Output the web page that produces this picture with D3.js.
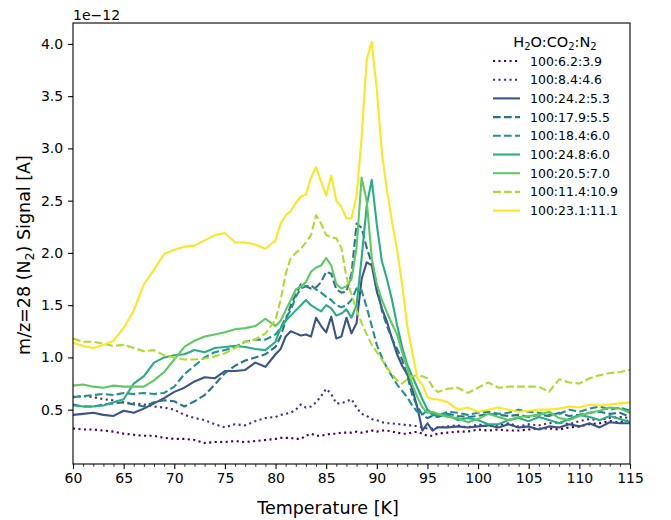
<!DOCTYPE html>
<meta charset="utf-8">
<script src="https://d3js.org/d3.v7.min.js"></script>
<style>
body { margin: 0; background: #fff; }
text { font-family: "DejaVu Sans", sans-serif; fill: #000; }
.axisText { font-size: 14px; }
.axisTitle { font-size: 17.5px; }
.legendText { font-size: 12.5px; }
.legendTitle { font-size: 14.5px; }
</style>
<div id="my_dataviz"></div>
<script>

// temperatures [K] (finer steps around the desorption peak)
const temps = [60,61,62,63,64,65,66,67,68,69,70,71,72,73,74,75,76,77,78,79,80,
  80.5,81,81.5,82,82.5,83,83.5,84,84.5,85,85.5,86,86.5,87,87.5,88,88.5,89,89.5,90,90.5,91,91.5,92,92.5,93,93.5,94,94.5,95,95.5,96,
  97,98,99,100,101,102,103,104,105,106,107,108,109,110,111,112,113,114,115];

// signals in units of 1e-12 A
const r6_2_3_9 = [0.32,0.31,0.31,0.30,0.29,0.27,0.26,0.25,0.25,0.23,0.22,0.22,0.21,0.18,0.19,0.19,0.20,0.19,0.20,0.21,0.22,
  0.23,0.23,0.23,0.22,0.22,0.25,0.27,0.25,0.25,0.26,0.27,0.27,0.28,0.28,0.28,0.29,0.28,0.29,0.30,0.29,0.30,0.30,0.29,0.28,0.27,0.27,0.28,0.29,0.27,0.25,0.25,0.27,
  0.28,0.29,0.29,0.31,0.30,0.31,0.30,0.30,0.31,0.32,0.32,0.31,0.33,0.34,0.36,0.37,0.39,0.38,0.40];
const r8_4_4_6 = [0.62,0.63,0.62,0.60,0.59,0.57,0.56,0.55,0.53,0.52,0.50,0.45,0.42,0.40,0.36,0.33,0.36,0.35,0.39,0.42,0.43,
  0.45,0.46,0.47,0.50,0.55,0.52,0.53,0.57,0.63,0.70,0.65,0.56,0.56,0.58,0.60,0.52,0.46,0.44,0.41,0.40,0.38,0.37,0.37,0.36,0.36,0.35,0.35,0.34,0.33,0.32,0.32,0.33,
  0.34,0.35,0.33,0.36,0.34,0.35,0.37,0.34,0.36,0.35,0.37,0.38,0.36,0.39,0.41,0.40,0.42,0.43,0.42];
const r24_2_5_3 = [0.45,0.46,0.47,0.45,0.44,0.49,0.47,0.51,0.56,0.61,0.67,0.71,0.77,0.81,0.80,0.87,0.87,0.88,0.95,0.91,1.03,
  1.08,1.20,1.25,1.23,1.21,1.22,1.20,1.38,1.30,1.24,1.39,1.18,1.20,1.38,1.23,1.33,1.75,1.91,1.88,1.63,1.47,1.34,1.18,1.03,0.92,0.84,0.70,0.52,0.30,0.37,0.30,0.33,
  0.33,0.34,0.33,0.34,0.35,0.33,0.36,0.33,0.34,0.31,0.34,0.33,0.36,0.34,0.37,0.33,0.38,0.37,0.37];
const r17_9_5_5 = [0.55,0.53,0.53,0.55,0.56,0.57,0.55,0.53,0.57,0.59,0.58,0.53,0.58,0.64,0.74,0.85,0.92,0.97,1.00,1.03,1.10,
  1.20,1.35,1.50,1.60,1.70,1.68,1.66,1.67,1.72,1.82,1.80,1.65,1.62,1.63,1.80,2.28,2.24,2.05,1.90,1.70,1.45,1.30,1.18,1.08,0.98,0.83,0.64,0.53,0.45,0.42,0.44,0.43,
  0.46,0.44,0.43,0.44,0.46,0.45,0.44,0.45,0.43,0.45,0.44,0.47,0.44,0.45,0.47,0.48,0.46,0.47,0.43];
const r18_4_6_0 = [0.62,0.63,0.64,0.65,0.64,0.66,0.65,0.66,0.65,0.66,0.72,0.84,0.92,1.00,1.05,1.07,1.10,1.15,1.17,1.17,1.22,
  1.28,1.38,1.45,1.58,1.66,1.68,1.69,1.65,1.62,1.58,1.55,1.50,1.48,1.50,1.55,1.66,1.64,1.48,1.30,1.12,1.00,0.90,0.82,0.74,0.68,0.62,0.54,0.48,0.45,0.50,0.45,0.44,
  0.48,0.47,0.45,0.47,0.48,0.46,0.47,0.50,0.48,0.47,0.45,0.46,0.50,0.48,0.51,0.53,0.50,0.52,0.49];
const r24_8_6_0 = [0.54,0.53,0.53,0.54,0.57,0.60,0.75,0.82,0.95,1.00,1.02,1.03,1.07,1.05,1.09,1.10,1.11,1.10,1.08,1.07,1.15,
  1.28,1.35,1.40,1.45,1.50,1.55,1.50,1.47,1.44,1.50,1.47,1.40,1.42,1.46,1.38,1.50,1.95,2.45,2.70,2.27,1.92,1.75,1.55,1.31,1.10,0.93,0.82,0.71,0.60,0.50,0.46,0.45,
  0.45,0.40,0.42,0.40,0.36,0.36,0.40,0.42,0.39,0.43,0.40,0.37,0.41,0.45,0.43,0.40,0.44,0.41,0.38];
const r20_5_7_0 = [0.73,0.74,0.72,0.71,0.73,0.72,0.72,0.72,0.78,0.86,0.98,1.10,1.16,1.20,1.22,1.24,1.27,1.28,1.30,1.37,1.30,
  1.35,1.45,1.55,1.65,1.68,1.72,1.82,1.86,1.88,1.95,1.88,1.70,1.66,1.68,1.75,2.05,2.72,2.50,1.95,1.70,1.55,1.43,1.32,1.22,1.05,0.90,0.74,0.62,0.52,0.47,0.48,0.46,
  0.43,0.42,0.38,0.41,0.46,0.43,0.40,0.43,0.44,0.45,0.48,0.42,0.40,0.44,0.47,0.49,0.52,0.51,0.47];
const r11_4_10_9 = [1.18,1.15,1.15,1.13,1.11,1.12,1.09,1.06,1.07,1.02,1.00,0.98,0.98,0.99,1.01,1.04,1.09,1.15,1.17,1.23,1.36,
  1.55,1.80,1.95,2.00,2.04,2.10,2.17,2.36,2.28,2.17,2.15,2.14,2.05,1.77,1.60,1.45,1.33,1.22,1.12,1.05,0.98,0.90,0.84,0.78,0.75,0.79,0.82,0.83,0.82,0.80,0.72,0.67,
  0.70,0.71,0.66,0.71,0.76,0.71,0.72,0.72,0.72,0.72,0.67,0.79,0.76,0.75,0.80,0.83,0.85,0.86,0.88];
const r23_1_11_1 = [1.14,1.11,1.09,1.12,1.16,1.28,1.45,1.70,1.84,1.99,2.03,2.06,2.07,2.12,2.17,2.19,2.10,2.10,2.08,2.04,2.12,
  2.28,2.36,2.40,2.48,2.54,2.56,2.72,2.82,2.68,2.55,2.74,2.50,2.44,2.33,2.33,2.55,3.10,3.85,4.02,3.56,2.96,2.60,2.30,2.03,1.70,1.30,1.05,0.80,0.74,0.62,0.60,0.60,
  0.57,0.50,0.52,0.48,0.50,0.52,0.50,0.48,0.49,0.50,0.50,0.51,0.53,0.52,0.55,0.54,0.55,0.56,0.57];

const labels = ["100:6.2:3.9","100:8.4:4.6","100:24.2:5.3","100:17.9:5.5","100:18.4:6.0",
  "100:24.8:6.0","100:20.5:7.0","100:11.4:10.9","100:23.1:11.1"];
const styles = ["dot","dot","solid","dash","dash","solid","solid","dash","solid"];
const xTicks = [60,65,70,75,80,85,90,95,100,105,110,115];
const yTicks = [0.5,1.0,1.5,2.0,2.5,3.0,3.5,4.0];

const allSeries = [r6_2_3_9, r8_4_4_6, r24_2_5_3, r17_9_5_5, r18_4_6_0, r24_8_6_0, r20_5_7_0, r11_4_10_9, r23_1_11_1];
const dashes = {dot: "2.1,3.4", dash: "7.7,3.3", solid: null};

// set the dimensions and margins of the graph
const margin = {top: 23, right: 41, bottom: 56, left: 73},
    width = 671 - margin.left - margin.right,
    height = 520 - margin.top - margin.bottom;

const root = d3.select("#my_dataviz")
  .append("svg")
    .attr("width", 671)
    .attr("height", 520);

const svg = root.append("g")
    .attr("transform", `translate(${margin.left}, ${margin.top})`);

const x = d3.scaleLinear().domain([60, 115]).range([0, width]);
const y = d3.scaleLinear().domain([-0.02, 4.2]).range([height, 0]);

svg.append("clipPath").attr("id", "clip")
  .append("rect").attr("width", width).attr("height", height);

// lines
const line = d3.line()
  .x((d, i) => x(temps[i]))
  .y(d => y(d));

allSeries.forEach((vals, i) => {
  svg.append("path")
    .datum(vals)
    .attr("clip-path", "url(#clip)")
    .attr("fill", "none")
    .attr("stroke", d3.interpolateViridis(i / 8))
    .attr("stroke-width", 2.1)
    .attr("stroke-dasharray", dashes[styles[i]])
    .attr("stroke-linejoin", "round")
    .attr("d", line);
});

// X axis (minor, then major)
svg.append("g")
  .attr("transform", `translate(0, ${height})`)
  .call(d3.axisBottom(x).tickValues(d3.range(60, 116).filter(d => d % 5 != 0)).tickSize(2.8).tickFormat(""))
  .call(g => g.select(".domain").remove())
  .selectAll("line").attr("stroke-width", 0.8);

svg.append("g")
  .attr("transform", `translate(0, ${height})`)
  .call(d3.axisBottom(x).tickValues(xTicks).tickSize(4.9).tickPadding(4.5).tickSizeOuter(0))
  .call(g => g.select(".domain").remove())
  .call(g => g.selectAll("line").attr("stroke-width", 1.1))
  .selectAll("text")
    .attr("class", "axisText");

// Y axis
svg.append("g")
  .call(d3.axisLeft(y).tickValues(yTicks).tickFormat(d3.format(".1f")).tickSize(4.9).tickPadding(4.9).tickSizeOuter(0))
  .call(g => g.select(".domain").remove())
  .call(g => g.selectAll("line").attr("stroke-width", 1.1))
  .selectAll("text")
    .attr("class", "axisText");

root.selectAll("g").attr("font-family", null).attr("font-size", null);

// frame
svg.append("rect")
  .attr("width", width).attr("height", height)
  .attr("fill", "none").attr("stroke", "#000").attr("stroke-width", 1.1);

// offset text
root.append("text")
  .attr("class", "axisText")
  .attr("x", margin.left).attr("y", 20)
  .text("1e\u221212");

// axis titles
root.append("text")
  .attr("class", "axisTitle")
  .attr("text-anchor", "middle")
  .attr("x", 328).attr("y", 514)
  .text("Temperature [K]");

const yl = root.append("text")
  .attr("class", "axisTitle")
  .attr("text-anchor", "middle")
  .attr("transform", "translate(30, 255) rotate(-90)");
yl.append("tspan").text("m/z=28 (N");
yl.append("tspan").attr("font-size", "12.5px").attr("dy", 3.5).text("2");
yl.append("tspan").attr("dy", -3.5).text(") Signal [A]");

// legend
const leg = root.append("g").attr("transform", "translate(493, 0)");
const lt = leg.append("text")
  .attr("class", "legendTitle")
  .attr("text-anchor", "middle")
  .attr("x", 62).attr("y", 47);
[["H", false], ["2", true], ["O:CO", false], ["2", true], [":N", false], ["2", true]].forEach(([t, sub], k) => {
  lt.append("tspan")
    .attr("font-size", sub ? "10px" : null)
    .attr("dy", sub ? 3 : (k > 0 ? -3 : 0))
    .text(t);
});

labels.forEach((lab, i) => {
  const ry = 61 + i * 18.7;
  leg.append("line")
    .attr("x1", 0).attr("x2", 27)
    .attr("y1", ry).attr("y2", ry)
    .attr("stroke", d3.interpolateViridis(i / 8))
    .attr("stroke-width", 2.1)
    .attr("stroke-dasharray", dashes[styles[i]]);
  leg.append("text")
    .attr("class", "legendText")
    .attr("x", 37).attr("y", ry)
    .attr("dy", "0.36em")
    .text(lab);
});

</script>
